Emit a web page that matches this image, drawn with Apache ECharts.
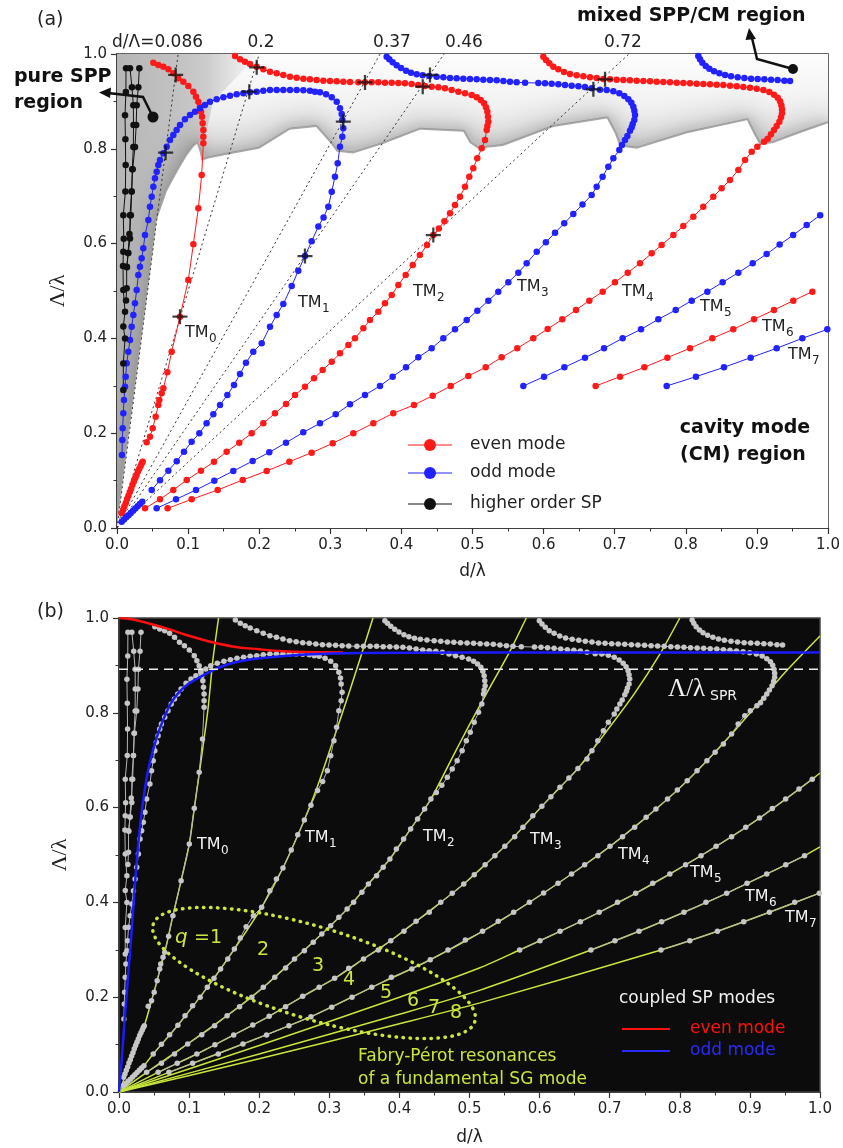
<!DOCTYPE html>
<html><head><meta charset="utf-8">
<script src="https://cdn.jsdelivr.net/npm/echarts/dist/echarts.min.js"></script>
<style>html,body{margin:0;padding:0;background:#fff;}#c{width:843px;height:1148px;}</style>
</head><body><div id="c"></div>
<script>
// ---------------- data ----------------
const dLambda = [0.086, 0.2, 0.37, 0.46, 0.72];
const dLambdaLabels = ['d/\u039B=0.086', '0.2', '0.37', '0.46', '0.72'];

const evenNear = [[0.0066,0.031],[0.0085,0.038],[0.0104,0.046],[0.0123,0.053],[0.0142,0.061],[0.0161,0.068],[0.018,0.076],[0.0199,0.083],[0.0218,0.091],[0.0237,0.098],[0.0256,0.105],[0.0275,0.112],[0.0294,0.119],[0.0313,0.125],[0.0332,0.131],[0.0347,0.136],[0.0361,0.14]];
const oddNear = [[0.0066,0.0134],[0.0098,0.018],[0.013,0.0225],[0.0162,0.027],[0.0194,0.0318],[0.0226,0.0365],[0.0258,0.0412],[0.029,0.046],[0.0322,0.0508],[0.0356,0.0556]];

const evenTM0 = [[0.0511,0.9817],[0.0581,0.9768],[0.0652,0.9733],[0.0722,0.9677],[0.0792,0.9592],[0.0863,0.9487],[0.0933,0.9416],[0.1003,0.9325],[0.1074,0.9205],[0.1111,0.91],[0.1144,0.8994],[0.1168,0.8889],[0.1182,0.8783],[0.1196,0.8678],[0.1205,0.8537],[0.1214,0.8397],[0.1214,0.8256],[0.1214,0.8115],[0.1191,0.7447],[0.1144,0.6744],[0.1074,0.5985],[0.1003,0.5232],[0.0886,0.4459],[0.0769,0.372],[0.0708,0.3284],[0.0652,0.2947],[0.0628,0.2841],[0.0595,0.27],[0.0581,0.2595],[0.0544,0.2349],[0.0502,0.2103],[0.0464,0.1927],[0.0417,0.1807]];

const oddTM1 = [[0.007,0.154],[0.0075,0.1857],[0.008,0.2103],[0.0089,0.242],[0.0098,0.27],[0.0113,0.2982],[0.0122,0.3193],[0.0136,0.3474],[0.0159,0.372],[0.0183,0.3966],[0.0206,0.4247],[0.023,0.4494],[0.0253,0.474],[0.0277,0.5021],[0.03,0.5338],[0.0323,0.5513],[0.0347,0.569],[0.037,0.59],[0.0394,0.6181],[0.0441,0.6498],[0.0464,0.6779],[0.0488,0.699],[0.0511,0.7201],[0.0534,0.7377],[0.0558,0.7518],[0.0581,0.7658],[0.0605,0.7764],[0.0652,0.7904],[0.0699,0.8045],[0.0745,0.8186],[0.0792,0.8291],[0.0839,0.8397],[0.0886,0.8502],[0.0956,0.8622],[0.1027,0.8713],[0.1097,0.8783],[0.1168,0.8854],[0.1238,0.8924],[0.1308,0.8994],[0.1402,0.9044],[0.1496,0.9086],[0.1589,0.9121],[0.1683,0.9149],[0.1777,0.917],[0.1871,0.9191],[0.1965,0.9205],[0.2058,0.9226],[0.2152,0.924],[0.2246,0.924],[0.2339,0.924],[0.2433,0.924],[0.2527,0.924],[0.2621,0.9233],[0.2714,0.9226],[0.2785,0.9205],[0.2855,0.9191],[0.294,0.9149],[0.302,0.9086],[0.309,0.8994],[0.3136,0.8854],[0.316,0.8734],[0.3169,0.8608],[0.3183,0.8432],[0.3169,0.8256],[0.3136,0.8045],[0.3104,0.7694],[0.3066,0.7412],[0.302,0.7096],[0.2972,0.6779],[0.2905,0.655],[0.2832,0.636],[0.2738,0.605],[0.2644,0.5738],[0.255,0.5429],[0.2457,0.5105],[0.2339,0.4726],[0.2246,0.4494],[0.2152,0.4247],[0.2035,0.3896],[0.1917,0.372],[0.1814,0.3488],[0.173,0.3249],[0.1646,0.3017],[0.1552,0.2806],[0.1449,0.2595],[0.1355,0.2398],[0.126,0.2208],[0.1158,0.1997],[0.105,0.182],[0.0942,0.161],[0.084,0.141],[0.0722,0.121],[0.0605,0.101],[0.0488,0.0802]];

const evenTM2 = [[0.166,0.9958],[0.173,0.9888],[0.18,0.9838],[0.1871,0.9789],[0.1965,0.9733],[0.2058,0.9677],[0.2152,0.9627],[0.2246,0.9592],[0.2339,0.9557],[0.2433,0.9522],[0.2527,0.9501],[0.2621,0.9479],[0.2714,0.9466],[0.2808,0.9451],[0.2902,0.9437],[0.2996,0.943],[0.309,0.9423],[0.3183,0.9416],[0.3277,0.9409],[0.3394,0.9402],[0.3488,0.9402],[0.3582,0.9402],[0.3675,0.9402],[0.3769,0.9395],[0.3863,0.9395],[0.3957,0.9388],[0.405,0.9381],[0.4144,0.9367],[0.4238,0.9346],[0.4332,0.9325],[0.4426,0.9311],[0.452,0.9297],[0.4613,0.9276],[0.4707,0.924],[0.4801,0.9205],[0.4895,0.917],[0.4988,0.9135],[0.5059,0.9086],[0.5115,0.903],[0.5162,0.896],[0.519,0.8875],[0.5209,0.8783],[0.5218,0.8678],[0.5223,0.8572],[0.5209,0.8481],[0.52,0.8397],[0.5176,0.8186],[0.5129,0.8009],[0.5067,0.7799],[0.5011,0.7588],[0.4955,0.7412],[0.4895,0.72],[0.4824,0.699],[0.4754,0.6814],[0.4684,0.6639],[0.4605,0.647],[0.4527,0.632],[0.4449,0.6181],[0.436,0.597],[0.426,0.576],[0.416,0.555],[0.406,0.534],[0.3957,0.5127],[0.3864,0.4916],[0.3769,0.474],[0.3675,0.4564],[0.3558,0.4388],[0.3465,0.4213],[0.3347,0.4002],[0.3254,0.3861],[0.3136,0.3685],[0.302,0.3509],[0.2893,0.3333],[0.2771,0.3158],[0.2644,0.2982],[0.2504,0.2806],[0.2377,0.2616],[0.2222,0.242],[0.2058,0.2208],[0.1894,0.1997],[0.172,0.18],[0.1542,0.161],[0.1364,0.1399],[0.1181,0.1209],[0.098,0.1013],[0.0792,0.0802],[0.0605,0.0605],[0.0394,0.0415]];

const oddTM3 = [[0.3793,0.9944],[0.383,0.9888],[0.3877,0.9824],[0.3933,0.9761],[0.3994,0.9705],[0.4065,0.9648],[0.4135,0.9606],[0.4215,0.9571],[0.4299,0.955],[0.4393,0.9536],[0.4496,0.9522],[0.459,0.9508],[0.4684,0.9494],[0.4777,0.9487],[0.4871,0.9479],[0.4965,0.9472],[0.5059,0.9466],[0.5152,0.9459],[0.5246,0.9451],[0.534,0.9444],[0.5434,0.943],[0.5527,0.9416],[0.5621,0.9402],[0.5739,0.9395],[0.5926,0.9388],[0.602,0.9381],[0.6113,0.9374],[0.6207,0.936],[0.6301,0.9346],[0.6395,0.9332],[0.6489,0.9318],[0.6582,0.9304],[0.6676,0.9276],[0.6793,0.9247],[0.6887,0.924],[0.6981,0.9212],[0.7065,0.917],[0.7135,0.9114],[0.7192,0.9044],[0.7234,0.8973],[0.7262,0.8889],[0.7276,0.8805],[0.7286,0.8713],[0.7276,0.8608],[0.7253,0.8523],[0.7239,0.8453],[0.7215,0.8383],[0.7178,0.827],[0.7145,0.8186],[0.7102,0.808],[0.7065,0.7975],[0.6981,0.7799],[0.691,0.7623],[0.683,0.7412],[0.6746,0.72],[0.6676,0.7025],[0.6547,0.6826],[0.6418,0.6626],[0.629,0.6427],[0.6161,0.6228],[0.6032,0.6028],[0.5903,0.583],[0.5762,0.5584],[0.5645,0.5387],[0.5504,0.5183],[0.5363,0.4986],[0.5223,0.4796],[0.5068,0.4585],[0.4918,0.4388],[0.4754,0.4191],[0.459,0.4002],[0.4426,0.379],[0.4238,0.3601],[0.4065,0.339],[0.3877,0.3193],[0.3699,0.2996],[0.3488,0.2806],[0.3277,0.261],[0.3076,0.2398],[0.2855,0.2208],[0.262,0.2018],[0.2377,0.18],[0.2142,0.1596],[0.1908,0.1413],[0.1636,0.1203],[0.1369,0.0998],[0.1111,0.0802],[0.083,0.0605],[0.0558,0.0415]];

const evenTM4 = [[0.5996,0.9944],[0.6034,0.9874],[0.6081,0.9803],[0.6137,0.9733],[0.6207,0.9677],[0.6287,0.962],[0.6371,0.9578],[0.6465,0.955],[0.6559,0.9529],[0.6653,0.9508],[0.6747,0.9494],[0.684,0.9473],[0.6934,0.9466],[0.7028,0.9459],[0.7121,0.9451],[0.7215,0.9444],[0.7309,0.9437],[0.7403,0.943],[0.7497,0.9423],[0.759,0.9416],[0.7684,0.9409],[0.7778,0.9402],[0.7872,0.9395],[0.7966,0.9388],[0.8059,0.9381],[0.8153,0.9374],[0.8247,0.9367],[0.8341,0.936],[0.8434,0.9353],[0.8528,0.9346],[0.8622,0.9332],[0.8716,0.9318],[0.8809,0.9304],[0.8903,0.929],[0.8997,0.9269],[0.9091,0.924],[0.9175,0.9198],[0.9241,0.9142],[0.9293,0.9079],[0.9325,0.9001],[0.9344,0.8917],[0.9353,0.8833],[0.9353,0.8748],[0.9339,0.8664],[0.9316,0.8572],[0.9278,0.8481],[0.9241,0.8397],[0.9198,0.8305],[0.9152,0.8214],[0.91,0.8151],[0.9006,0.8045],[0.8927,0.7939],[0.8833,0.7764],[0.8739,0.7553],[0.8622,0.7342],[0.8504,0.7166],[0.8387,0.699],[0.8246,0.6779],[0.8106,0.6568],[0.7965,0.6371],[0.7825,0.6181],[0.766,0.597],[0.752,0.5795],[0.7356,0.5584],[0.7183,0.5387],[0.7004,0.5183],[0.6831,0.4986],[0.6643,0.4796],[0.6456,0.4599],[0.6263,0.4402],[0.6057,0.4198],[0.5855,0.4002],[0.563,0.379],[0.541,0.3601],[0.5186,0.339],[0.4941,0.3207],[0.4693,0.2996],[0.444,0.2791],[0.4177,0.2595],[0.3886,0.242],[0.3605,0.2208],[0.3324,0.1997],[0.3034,0.1786],[0.2738,0.1589],[0.2424,0.1399],[0.2105,0.1203],[0.1768,0.1013],[0.1416,0.0802],[0.105,0.0605],[0.0712,0.0415]];

const oddTM5top = [[0.8176,0.9958],[0.82,0.9888],[0.8233,0.9817],[0.828,0.9747],[0.8331,0.9691],[0.8397,0.9634],[0.8472,0.9592],[0.8552,0.9557],[0.8636,0.9529],[0.873,0.9508],[0.8824,0.9494],[0.8918,0.9479],[0.9011,0.9472],[0.9105,0.9466],[0.9199,0.9459],[0.9292,0.9451],[0.9386,0.9437],[0.9466,0.943]];
const oddTM5 = [[0.5715,0.2996],[0.6006,0.3193],[0.6292,0.339],[0.6582,0.3594],[0.685,0.3791],[0.7112,0.4002],[0.737,0.4191],[0.7614,0.4403],[0.7858,0.4599],[0.8083,0.4796],[0.8303,0.4986],[0.8518,0.5183],[0.8739,0.5387],[0.8941,0.5584],[0.9137,0.578],[0.932,0.598],[0.951,0.618],[0.97,0.639],[0.989,0.66]];
const evenTM6 = [[0.6732,0.2996],[0.7075,0.3193],[0.7417,0.339],[0.7741,0.3594],[0.8059,0.3791],[0.8373,0.4002],[0.8668,0.4191],[0.8959,0.4403],[0.924,0.4599],[0.9512,0.4796],[0.978,0.4986]];
const oddTM7 = [[0.7731,0.2996],[0.8143,0.3193],[0.8537,0.339],[0.8912,0.3594],[0.9278,0.3791],[0.9639,0.4002],[0.999,0.4191]];

const hoSP1 = [[0.0127,0.97],[0.0125,0.92],[0.0113,0.871],[0.0118,0.82],[0.0122,0.766],[0.0118,0.71],[0.0089,0.66],[0.0095,0.61],[0.0089,0.583],[0.0084,0.553],[0.0089,0.502],[0.0113,0.456],[0.0089,0.425],[0.0113,0.4],[0.0089,0.347],[0.0089,0.291]];
const hoSP2 = [[0.0183,0.97],[0.021,0.93],[0.023,0.892],[0.0232,0.85],[0.023,0.804],[0.0215,0.757],[0.0206,0.71],[0.0183,0.66],[0.0183,0.611],[0.0159,0.58],[0.0136,0.551],[0.0136,0.506],[0.0127,0.48]];
const hoSP3 = [[0.0314,0.97],[0.03,0.93],[0.0277,0.892],[0.027,0.85],[0.0253,0.804],[0.022,0.757],[0.0206,0.71],[0.0195,0.66],[0.0175,0.62],[0.0155,0.58],[0.014,0.55]];

const crosses = [[0.0825,0.9557],[0.0684,0.7918],[0.1965,0.9719],[0.1861,0.9205],[0.3183,0.8572],[0.0886,0.4459],[0.2644,0.5738],[0.3488,0.94],[0.4402,0.9557],[0.43,0.931],[0.67,0.9255],[0.6864,0.9466],[0.4449,0.6181]];

// shaded regions of panel (a)
const wedgeEdge = [[0,0],[0.017,0.2],[0.045,0.52],[0.056,0.65],[0.07,0.71],[0.084,0.749],[0.098,0.785],[0.108,0.805],[0.1125,0.81]];
const bandEdge = [[0.1125,0.81],[0.116,0.795],[0.119,0.775],[0.13,0.78],[0.164,0.79],[0.2,0.8],[0.243,0.84],[0.28,0.846],[0.3,0.812],[0.309,0.794],[0.332,0.79],[0.374,0.81],[0.426,0.84],[0.487,0.836],[0.496,0.812],[0.508,0.8],[0.543,0.806],[0.614,0.846],[0.689,0.864],[0.7,0.833],[0.707,0.805],[0.731,0.8],[0.802,0.833],[0.886,0.86],[0.895,0.833],[0.904,0.808],[0.923,0.812],[0.96,0.833],[1.0,0.854]];

// panel (b): Fabry-Perot lines and coupled SP modes
const fpTM0 = [[0,0],[0.0361,0.14],[0.0464,0.1927],[0.0652,0.2947],[0.0769,0.372],[0.0886,0.4459],[0.1003,0.5232],[0.1074,0.5985],[0.1149,0.676],[0.1268,0.806],[0.1339,0.911],[0.142,1.0]];
const fpTM1 = [[0,0],[0.0356,0.0556],[0.0488,0.0802],[0.084,0.141],[0.126,0.2208],[0.1646,0.3017],[0.2035,0.3896],[0.2339,0.4726],[0.2644,0.5738],[0.2832,0.645],[0.305,0.74],[0.33,0.85],[0.3623,1.0]];
const fpTM2 = [[0,0],[0.0394,0.0415],[0.098,0.1013],[0.1542,0.161],[0.2058,0.2208],[0.2504,0.2806],[0.2893,0.3333],[0.3254,0.3861],[0.3558,0.4388],[0.3864,0.4916],[0.416,0.555],[0.4449,0.6181],[0.476,0.707],[0.5,0.775],[0.524,0.84],[0.557,0.928],[0.581,1.0]];
const fpTM3 = [[0,0],[0.0558,0.0415],[0.1111,0.0802],[0.1636,0.1203],[0.2142,0.1596],[0.262,0.2018],[0.3076,0.2398],[0.3488,0.2806],[0.3877,0.3193],[0.4238,0.3601],[0.459,0.4002],[0.4918,0.4388],[0.5223,0.4796],[0.5504,0.5183],[0.5762,0.5584],[0.6032,0.6028],[0.629,0.6427],[0.6547,0.6826],[0.695,0.76],[0.735,0.84],[0.772,0.925],[0.8,1.0]];
const fpTM4 = [[0,0],[0.0712,0.0415],[0.1768,0.1013],[0.2738,0.1589],[0.3605,0.2208],[0.444,0.2791],[0.5186,0.339],[0.5855,0.4002],[0.6456,0.4599],[0.7004,0.5183],[0.752,0.5795],[0.7825,0.6181],[0.8106,0.6568],[0.8387,0.699],[0.8739,0.7553],[0.905,0.808],[0.95,0.885],[1.0,0.962]];
const fpTM5 = [[0,0],[0.2,0.098],[0.4,0.2],[0.515,0.262],[0.5715,0.2996],[0.6292,0.339],[0.685,0.3791],[0.737,0.4191],[0.7858,0.4599],[0.8303,0.4986],[0.8739,0.5387],[0.9137,0.578],[0.951,0.618],[0.989,0.66],[1.0,0.673]];
const fpTM6 = [[0,0],[0.2,0.08],[0.4,0.164],[0.515,0.215],[0.6732,0.2996],[0.7417,0.339],[0.8059,0.3791],[0.8668,0.4191],[0.924,0.4599],[0.978,0.4986],[1.0,0.517]];
const fpTM7 = [[0,0],[0.2,0.07],[0.4,0.144],[0.515,0.188],[0.7731,0.2996],[0.8537,0.339],[0.9278,0.3791],[1.0,0.42]];
const evenSP = [[0,1.0],[0.02,0.997],[0.044,0.988],[0.07,0.977],[0.096,0.964],[0.13,0.95],[0.162,0.94],[0.2,0.934],[0.234,0.93],[0.28,0.928],[0.32,0.927]];
const oddSP = [[0,0],[0.004,0.07],[0.008,0.152],[0.017,0.32],[0.027,0.515],[0.036,0.63],[0.046,0.707],[0.063,0.785],[0.086,0.844],[0.12,0.879],[0.162,0.905],[0.224,0.918],[0.305,0.925],[0.5,0.927],[1.0,0.927]];
const sprLevel = 0.892;

// ---------------- chart ----------------
const FONT = '"DejaVu Sans"';
const RED = '#ff1a1a', BLUE = '#2222ff', BLACK = '#111111', GRAY = '#c6c6c6', YEL = '#c8e63c';
const LG = echarts.graphic.LinearGradient;
const chart = echarts.init(document.getElementById('c'), null, {renderer: 'canvas'});

function chain(data, color, gi, size, lw, lcolor) {
  return {type: 'line', xAxisIndex: gi, yAxisIndex: gi, data: data, symbol: 'circle', symbolSize: size,
    showAllSymbol: true, itemStyle: {color: color}, lineStyle: {color: lcolor || color, width: lw},
    z: 4, silent: true, animation: false, clip: true};
}
function plainLine(data, color, gi, width, type, smooth, z) {
  return {type: 'line', xAxisIndex: gi, yAxisIndex: gi, data: data, symbol: 'none', smooth: smooth || false,
    lineStyle: {color: color, width: width, type: type || 'solid'}, z: z || 3, silent: true, animation: false};
}
function axisX(gi, gap) {
  return {gridIndex: gi, type: 'value', min: 0, max: 1, interval: 0.1,
    axisLine: {show: true, onZero: false, lineStyle: {color: '#333', width: 1.5}},
    axisTick: {show: true, inside: false, length: 6, lineStyle: {color: '#333', width: 1.2}},
    minorTick: {show: true, splitNumber: 2, length: 3.5, lineStyle: {color: '#333', width: 1}},
    splitLine: {show: false}, minorSplitLine: {show: false},
    axisLabel: {formatter: function (v) { return v.toFixed(1); }, fontFamily: 'DejaVu Sans', fontSize: 15, color: '#222', margin: 10},
    name: 'd/\u03BB', nameLocation: 'middle', nameGap: gap,
    nameTextStyle: {fontFamily: 'DejaVu Sans', fontSize: 17, color: '#222'}};
}
function axisY(gi) {
  return {gridIndex: gi, type: 'value', min: 0, max: 1, interval: 0.2,
    axisLine: {show: true, onZero: false, lineStyle: {color: '#333', width: 1.5}},
    axisTick: {show: true, inside: false, length: 6, lineStyle: {color: '#333', width: 1.2}},
    minorTick: {show: true, splitNumber: 2, length: 3.5, lineStyle: {color: '#333', width: 1}},
    splitLine: {show: false}, minorSplitLine: {show: false},
    axisLabel: {formatter: function (v) { return v.toFixed(1); }, fontFamily: 'DejaVu Sans', fontSize: 15, color: '#222', margin: 10},
    name: '\u039B/\u03BB', nameLocation: 'middle', nameGap: 48, nameRotate: 90,
    nameTextStyle: {fontFamily: 'Liberation Serif', fontSize: 22, color: '#222'}};
}

const series = [];
// panel (a) shading: band (mixed region) and wedge (pure SPP region) with a soft shadow along their boundary
series.push({type: 'custom', coordinateSystem: 'cartesian2d', xAxisIndex: 0, yAxisIndex: 0, data: [[0, 0]], z: 1, silent: true,
  renderItem: function (p, api) {
    const C = function (d) { return api.coord(d); };
    const boundary = wedgeEdge.concat(bandEdge.slice(1));
    const tl = C([0, 1]), br = C([1, 0]);
    return {type: 'group',
      clipPath: {type: 'rect', shape: {x: tl[0], y: tl[1], width: br[0] - tl[0], height: br[1] - tl[1]}},
      children: [
        {type: 'polygon', shape: {points: bandEdge.concat([[1, 1], [0.11, 1]]).map(C)},
          style: {fill: new LG(0, 0, 0, 1, [{offset: 0, color: '#fdfdfd'}, {offset: 0.55, color: '#f0f0f0'}, {offset: 1, color: '#e0e0e0'}])}},
        {type: 'polygon', shape: {points: wedgeEdge.concat([[0.125, 0.83], [0.135, 0.9], [0.2, 1.0], [0, 1.0]]).map(C)},
          style: {fill: new LG(0, 0, 1, 0, [{offset: 0, color: '#b6b6b6'}, {offset: 0.45, color: '#c3c3c3'}, {offset: 0.62, color: '#cbcbcb'}, {offset: 1, color: '#fafafa'}])}},
        {type: 'polyline', shape: {points: boundary.map(C)},
          style: {stroke: '#9e9e9e', lineWidth: 4, fill: null, lineJoin: 'round', shadowBlur: 30, shadowColor: 'rgba(50,50,50,1)'}},
        {type: 'polyline', shape: {points: boundary.map(C)},
          style: {stroke: '#a8a8a8', lineWidth: 3, fill: null, lineJoin: 'round', shadowBlur: 12, shadowColor: 'rgba(90,90,90,0.8)'}},
        {type: 'polygon', shape: {points: boundary.concat([[1, 0]]).map(C)}, style: {fill: '#ffffff'}}
      ]};
  }});
// dotted d/Lambda lines
dLambda.forEach(function (k) { series.push(plainLine([[0, 0], [k, 1]], '#333', 0, 1, [2, 3], false, 2)); });
// chains panel (a)
const evenChains = [evenNear, evenTM0, evenTM2, evenTM4, evenTM6];
const oddChains = [oddNear, oddTM1, oddTM3, oddTM5top, oddTM5, oddTM7];
const hoChains = [hoSP1, hoSP2, hoSP3];
evenChains.forEach(function (c) { series.push(chain(c, RED, 0, 6.5, 1)); });
oddChains.forEach(function (c) { series.push(chain(c, BLUE, 0, 6.5, 1)); });
hoChains.forEach(function (c) { series.push(chain(c, BLACK, 0, 6.5, 1)); });
series.push({type: 'scatter', xAxisIndex: 0, yAxisIndex: 0, data: crosses, symbol: 'path://M4.25,0H5.75V4.25H10V5.75H5.75V10H4.25V5.75H0V4.25H4.25Z',
  symbolSize: 15, itemStyle: {color: '#111'}, z: 6, silent: true, animation: false});

// panel (b)
[fpTM0, fpTM1, fpTM2, fpTM3, fpTM4, fpTM5, fpTM6, fpTM7].forEach(function (c) { series.push(plainLine(c, YEL, 1, 1.5, 'solid', 0.25, 3)); });
evenChains.concat(oddChains).concat(hoChains).forEach(function (c) { series.push(chain(c, GRAY, 1, 5.5, 1, '#b4b4b4')); });
series.push(plainLine(evenSP, '#ff1010', 1, 2.5, 'solid', 0.4, 5));
series.push(plainLine(oddSP, '#1a1aff', 1, 2.5, 'solid', 0.4, 6));
series.push(plainLine([[0, sprLevel], [1, sprLevel]], '#eeeeee', 1, 1.5, [9, 6], false, 7));

// ---------------- annotations ----------------
function T(x, y, text, size, color, o) {
  o = o || {};
  const font = (o.italic ? 'italic ' : 'normal ') + (o.bold ? 'bold ' : 'normal ') + size + 'px ' + (o.family || FONT);
  return {type: 'text', x: x, y: y, z: 100, silent: true,
    style: {text: text, font: font, fill: color, align: o.align || 'left', verticalAlign: 'middle',
      textAlign: o.align || 'left', textVerticalAlign: 'middle'}};
}
function tm(x, y, n, color) {
  return [T(x, y, 'TM', 16, color), T(x + 24, y + 6, String(n), 12, color)];
}
let g = [];
g.push(T(37, 20, '(a)', 19, '#222'));
g.push(T(37, 612, '(b)', 19, '#222'));
const topLabelX = [112, 261, 392, 464, 623];
dLambdaLabels.forEach(function (s, i) { g.push(T(topLabelX[i], 43, s, 17, '#222', {align: i === 0 ? 'left' : 'center'})); });
g.push(T(14, 77, 'pure SPP', 19, '#111', {bold: true}));
g.push(T(14, 103, 'region', 19, '#111', {bold: true}));
g.push(T(577, 16, 'mixed SPP/CM region', 19, '#111', {bold: true}));
g.push(T(745, 428, 'cavity mode', 19, '#111', {bold: true, align: 'center'}));
g.push(T(743, 455, '(CM) region', 19, '#111', {bold: true, align: 'center'}));
// arrows
g.push({type: 'polyline', z: 100, silent: true, shape: {points: [[153, 117], [143, 97], [108, 93]]}, style: {stroke: '#111', lineWidth: 2.5, fill: null}});
g.push({type: 'polygon', z: 100, silent: true, shape: {points: [[99, 92.5], [111, 87.5], [110, 98]]}, style: {fill: '#111'}});
g.push({type: 'circle', z: 100, silent: true, shape: {cx: 153, cy: 117, r: 5.5}, style: {fill: '#111'}});
g.push({type: 'polyline', z: 100, silent: true, shape: {points: [[793, 69], [757, 59], [752, 38]]}, style: {stroke: '#111', lineWidth: 2.5, fill: null}});
g.push({type: 'polygon', z: 100, silent: true, shape: {points: [[749, 28], [745.5, 40], [756, 39]]}, style: {fill: '#111'}});
g.push({type: 'circle', z: 100, silent: true, shape: {cx: 793, cy: 69, r: 5}, style: {fill: '#111'}});
// TM labels (a)
[[185, 333], [298, 303], [413, 292], [517, 287], [622, 292], [700, 307], [762, 327], [788, 355]].forEach(function (p, i) { g = g.concat(tm(p[0], p[1], i, '#222')); });
// legend (a)
[[445, RED, 'even mode'], [473, BLUE, 'odd mode'], [504, BLACK, 'higher order SP']].forEach(function (r) {
  g.push({type: 'line', z: 100, silent: true, shape: {x1: 408, y1: r[0], x2: 452, y2: r[0]}, style: {stroke: r[1], lineWidth: 1}});
  g.push({type: 'circle', z: 100, silent: true, shape: {cx: 430, cy: r[0], r: 6}, style: {fill: r[1]}});
  g.push(T(470, r[0], r[2], 17, '#222'));
});
// panel (b) labels
[[197, 845], [305, 838], [423, 837], [530, 840], [618, 855], [690, 873], [745, 897], [785, 918]].forEach(function (p, i) { g = g.concat(tm(p[0], p[1], i, '#f2f2f2')); });
g.push(T(668, 689, '\u039B/\u03BB', 25, '#f2f2f2', {family: '"Liberation Serif"'}));
g.push(T(710, 696, 'SPR', 14, '#f2f2f2'));
g.push(T(175, 938, 'q', 20, YEL, {italic: true}));
g.push(T(188, 938, ' =1', 19, YEL));
[[257, 950, '2'], [312, 966, '3'], [343, 980, '4'], [380, 993, '5'], [407, 1001, '6'], [428, 1008, '7'], [450, 1013, '8']].forEach(function (q) { g.push(T(q[0], q[1], q[2], 19, YEL)); });
g.push({type: 'ellipse', z: 99, silent: true, x: 314, y: 973, rotation: -0.293, shape: {cx: 0, cy: 0, rx: 168, ry: 46},
  style: {stroke: YEL, lineWidth: 3.5, fill: null, lineDash: [0.5, 6.5], lineCap: 'round'}});
g.push(T(358, 1057, 'Fabry-P\u00E9rot resonances', 17, YEL));
g.push(T(358, 1080, 'of a fundamental SG mode', 17, YEL));
g.push(T(619, 999, 'coupled SP modes', 17, '#f2f2f2'));
g.push({type: 'line', z: 100, silent: true, shape: {x1: 622, y1: 1029, x2: 670, y2: 1029}, style: {stroke: '#ff1010', lineWidth: 2}});
g.push(T(690, 1029, 'even mode', 17, '#ff1010'));
g.push({type: 'line', z: 100, silent: true, shape: {x1: 622, y1: 1051, x2: 670, y2: 1051}, style: {stroke: '#2a2aff', lineWidth: 2}});
g.push(T(690, 1051, 'odd mode', 17, '#2a2aff'));

chart.setOption({
  animation: false,
  backgroundColor: '#ffffff',
  grid: [
    {left: 117, top: 54, width: 711, height: 474, show: true, borderColor: '#333', borderWidth: 1.5, backgroundColor: 'transparent'},
    {left: 119, top: 618, width: 701, height: 474, show: true, borderColor: '#444', borderWidth: 1.5, backgroundColor: '#0c0c0c'}
  ],
  xAxis: [axisX(0, 35), axisX(1, 37)],
  yAxis: [axisY(0), axisY(1)],
  series: series,
  graphic: {elements: g}
});
</script></body></html>
